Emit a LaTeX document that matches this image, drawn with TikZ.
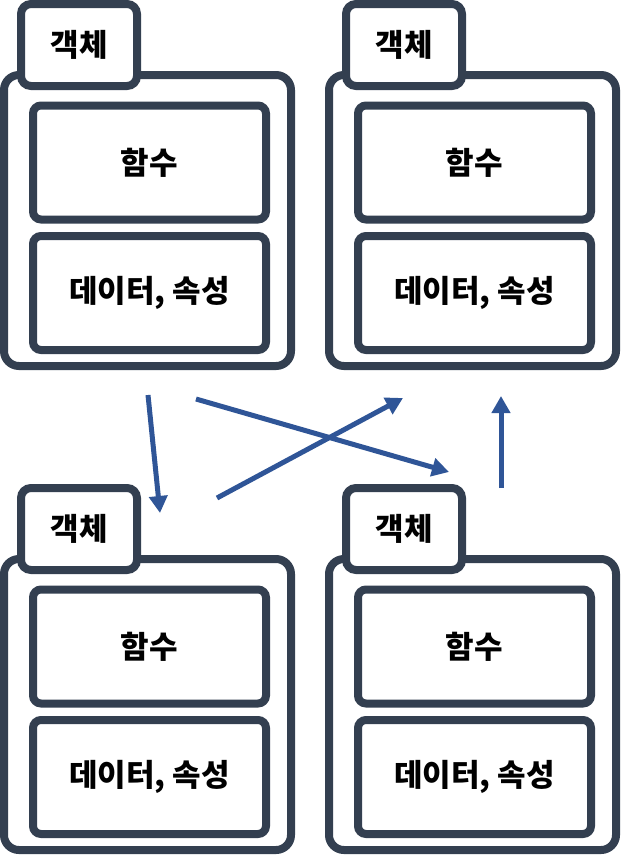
\documentclass[tikz,border=0pt]{standalone}
\usepackage{fontspec}
\newfontfamily\krfont{Noto Sans CJK KR}
\usetikzlibrary{arrows.meta}
\definecolor{frame}{HTML}{333F50}
\definecolor{arrowblue}{HTML}{2F5597}
\tikzset{
  boxbase/.style={draw=frame, line width=8pt, fill=white, inner sep=0pt, outer sep=0pt, font=\krfont\bfseries\fontsize{31}{34}\selectfont},
  outerbox/.style={boxbase, rounded corners=15pt, minimum width=287pt, minimum height=291pt},
  tabbox/.style={boxbase, rounded corners=10pt, minimum width=116pt, minimum height=82pt},
  innerbox/.style={boxbase, rounded corners=8pt, minimum width=233pt, minimum height=114pt},
  flow/.style={draw=arrowblue, line width=5pt, -{Triangle[length=17pt,width=18pt]}}
}
\newcommand{\objblock}[3]{%
  \begin{scope}[shift={(#2,#3)}]
    \node[outerbox] (#1o) at (147.5,220.5) {};
    \node[tabbox] (#1t) at (79,45) {객체};
    \node[innerbox] (#1f) at (149.5,162.5) {함수};
    \node[innerbox] (#1d) at (149.5,293) {데이터, 속성};
  \end{scope}}
\begin{document}
\begin{tikzpicture}[x=1pt,y=-1pt]
\useasboundingbox (0,0) rectangle (621,857);
\objblock{a}{0}{0}
\objblock{b}{325}{0}
\objblock{c}{0}{484}
\objblock{d}{325}{484}
\coordinate (s1) at (148,395);
\coordinate (e1) at (160,513);
\coordinate (s2) at (196,399);
\coordinate (e2) at (449,472);
\coordinate (s3) at (217,498);
\coordinate (e3) at (403,398);
\coordinate (s4) at (501,488);
\coordinate (e4) at (501,396);
\draw[flow] (s1) -- (e1);
\draw[flow] (s2) -- (e2);
\draw[flow] (s3) -- (e3);
\draw[flow] (s4) -- (e4);
\end{tikzpicture}
\end{document}
